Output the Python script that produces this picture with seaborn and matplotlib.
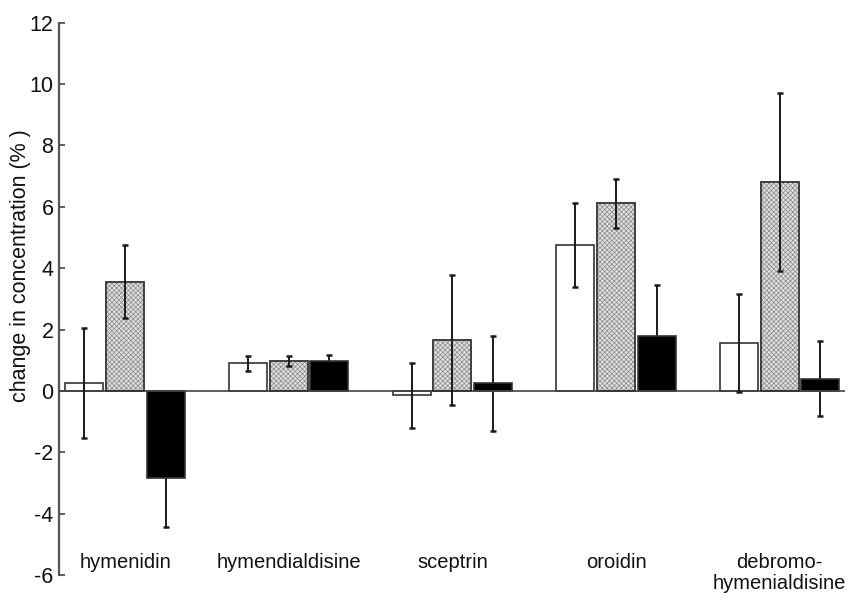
import matplotlib
matplotlib.use("Agg")
import matplotlib.pyplot as plt
import numpy as np
import pandas as pd
import seaborn as sns

# Alkaloid concentration change per compound, three treatment series
compounds = ["hymenidin", "hymendialdisine", "sceptrin", "oroidin",
             "debromo-\nhymenialdisine"]
series = ["series 1", "series 2", "series 3"]

change_s1 = [0.25, 0.90, -0.15, 4.76, 1.55]
change_s2 = [3.56, 0.97, 1.66, 6.11, 6.81]
change_s3 = [-2.84, 0.97, 0.25, 1.79, 0.40]

err_s1 = [1.79, 0.25, 1.05, 1.38, 1.60]
err_s2 = [1.20, 0.17, 2.13, 0.80, 2.89]
err_s3 = [1.60, 0.21, 1.55, 1.65, 1.23]

yticks = [-6, -4, -2, 0, 2, 4, 6, 8, 10, 12]

values = [change_s1, change_s2, change_s3]
errors = [err_s1, err_s2, err_s3]

df = pd.DataFrame({
    "compound": compounds * 3,
    "series": np.repeat(series, len(compounds)),
    "change": change_s1 + change_s2 + change_s3,
})

sns.set_theme(style="white")
plt.rcParams["font.family"] = ["Liberation Sans", "DejaVu Sans"]
plt.rcParams["hatch.linewidth"] = 0.5

fig = plt.figure(figsize=(8.49, 6.01), dpi=100)
ax = fig.add_axes([0.0695, 0.0433, 0.9258, 0.9189])

palette = {"series 1": "white", "series 2": "#dedede", "series 3": "black"}
sns.barplot(data=df, x="compound", y="change", hue="series",
            order=compounds, hue_order=series, palette=palette,
            width=0.745, gap=0.065, errorbar=None, legend=False,
            edgecolor="#333333", linewidth=1.2, saturation=1, ax=ax)

# seaborn adds bars hue by hue, in compound order
n = len(compounds)
for k, patch in enumerate(ax.patches[:3 * n]):
    s, i = divmod(k, n)
    patch.set_zorder(2)
    if s == 1:
        patch.set_hatch("xxxxxxx")
        patch.set_edgecolor("#8a8a8a")
    xc = patch.get_x() + patch.get_width() / 2
    # bars of the dark series hide the part of the whisker inside them
    ez = 1.5 if s == 2 else 5
    ax.errorbar(xc, values[s][i], yerr=errors[s][i], fmt="none",
                ecolor="#1a1a1a", elinewidth=1.4, capsize=2.2, capthick=1.8,
                zorder=ez)

# dark outline over the textured bars
for patch in ax.patches[n:2 * n]:
    outline = plt.Rectangle((patch.get_x(), patch.get_y()), patch.get_width(),
                            patch.get_height(), fill=False,
                            edgecolor="#333333", linewidth=1.2, zorder=4)
    ax.add_patch(outline)

ax.axhline(0, color="#444444", linewidth=1.2, zorder=3)

ax.set_ylim(-6, 12)
ax.set_xlim(-0.404, 4.40)
ax.set_yticks(yticks)
ax.set_yticklabels([str(t) for t in yticks], fontsize=15.5, color="#111111")
ax.tick_params(axis="y", direction="in", length=4, width=1.2,
               color="#444444", pad=4, left=True)
ax.set_xticks([])
ax.set_xlabel("")
ax.set_ylabel("")
fig.text(21 / 849, 1 - 266 / 601, "change in concentration (% )",
         rotation=90, ha="center", va="center", fontsize=15.5,
         color="#111111")

for side in ["top", "right", "bottom"]:
    ax.spines[side].set_visible(False)
ax.spines["left"].set_color("#555555")
ax.spines["left"].set_linewidth(1.6)

for i, name in enumerate(compounds):
    ax.text(i, -5.3, name, ha="center", va="top", fontsize=14.5,
            linespacing=1.1, color="#111111")

fig.savefig("out.png", dpi=100)
